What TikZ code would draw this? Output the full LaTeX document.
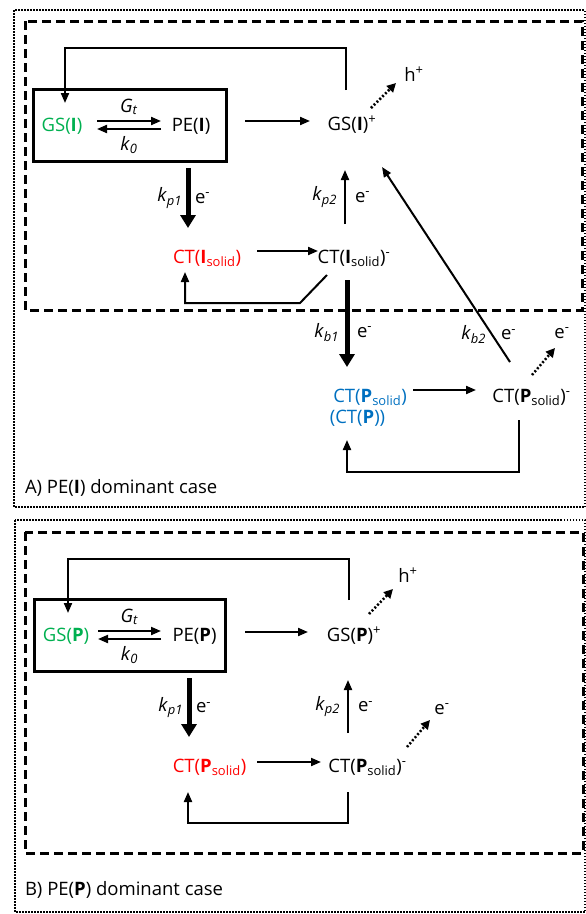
\documentclass[tikz,border=0pt]{standalone}
\usepackage{fontspec}
\setmainfont{Open Sans}
\usetikzlibrary{arrows.meta, calc}

\definecolor{gsgreen}{RGB}{0,176,80}
\definecolor{ctred}{RGB}{255,0,0}
\definecolor{ctblue}{RGB}{0,112,192}

\newcommand{\rate}[2]{\textit{#1}\textsubscript{\textit{#2}}}
\newcommand{\elec}{e\textsuperscript{-}}

\begin{document}
\begin{tikzpicture}[x=1pt, y=-1pt, line width=2pt,
    > = {Triangle[length=10pt, width=8pt]},
    every node/.style={inner sep=0pt, outer sep=0pt, font=\fontsize{18.5}{22}\selectfont},
    sp/.style={anchor=base},
    box/.style={draw, line width=3pt},
    frame/.style={line width=1.5pt, dash pattern=on 1.5pt off 1.5pt},
    zone/.style={line width=3pt, dash pattern=on 9pt off 5pt},
    bold/.style={line width=5pt, -{Triangle[length=13pt, width=15pt]}},
    dots/.style={line width=2.5pt, dash pattern=on 2pt off 2pt, -{Triangle[length=9pt, width=9pt]}}]
  \useasboundingbox (0,0) rectangle (586,914);

  % A) PE(I) dominant case
  \draw[frame] (14,10) rectangle (585,507);
  \draw[zone] (25,21) rectangle (582,310);

  \node[box, minimum width=193pt, minimum height=72pt] (boxA) at (129.5,125) {};
  \node[sp, text=gsgreen] (gsi) at (62,131) {GS(\textbf{I})};
  \node[sp] (pei) at (191,131) {PE(\textbf{I})};
  \node[sp] (gsip) at (352,130) {GS(\textbf{I})\textsuperscript{+}};
  \node[sp] (hpa) at (414,81) {h\textsuperscript{+}};
  \node[sp, text=ctred] (cti) at (207,263) {CT(\textbf{I}\textsubscript{solid})};
  \node[sp] (ctim) at (354,263) {CT(\textbf{I}\textsubscript{solid})\textsuperscript{-}};
  \node[sp, text=ctblue] (ctpb) at (370,402) {CT(\textbf{P}\textsubscript{solid})};
  \node[sp, text=ctblue] (ctpbx) at (357.5,423) {(CT(\textbf{P}))};
  \node[sp] (ctpm) at (531.5,402) {CT(\textbf{P}\textsubscript{solid})\textsuperscript{-}};
  \node[sp] (ema) at (562,338) {\elec};
  \node[sp, anchor=base west] (capA) at (25,493) {A) PE(\textbf{I}) dominant case};

  \draw[->] ($(gsi.base)+(35,-10)$) -- node[midway, above=6pt] {\rate{G}{t}} ($(pei.base)+(-30,-10)$);
  \draw[->] ($(pei.base)+(-30,-2)$) -- node[midway, below=7pt] {\rate{k}{0}} ($(gsi.base)+(35,-2)$);
  \draw[->] ($(gsip.base)+(-6,-40)$) -- ++(0,-42) -| ($(gsi.base)+(3,-28)$);
  \draw[->] ($(pei.base)+(54,-10)$) -- ($(gsip.base)+(-42,-9)$);
  \draw[dots] ($(gsip.base)+(19,-22)$) -- ($(hpa.base)+(-18,2)$);
  \draw[bold] ($(pei.base)+(-3,37)$) -- node[midway, left=6pt] {\rate{k}{p1}}
    node[midway, right=7pt] {\elec} ($(cti.base)+(-19,-35)$);
  \draw[->] ($(cti.base)+(50,-12)$) -- ($(ctim.base)+(-36,-12)$);
  \draw[->] ($(ctim.base)+(-9,-39)$) -- node[midway, left=8pt] {\rate{k}{p2}}
    node[midway, right=10pt] {\elec} ($(gsip.base)+(-7,40)$);
  \draw[->] ($(ctim.base)+(-27,12)$) -- ++(-27,28) -| ($(cti.base)+(-22,9)$);
  \draw[bold] ($(ctim.base)+(-7,17)$) -- node[pos=0.6, left=8pt] {\rate{k}{b1}}
    node[pos=0.6, right=10pt] {\elec} ($(ctpb.base)+(-23,-35)$);
  \draw[->] ($(ctpb.base)+(43,-12)$) -- ($(ctpm.base)+(-55.5,-12)$);
  \draw[->] ($(ctpm.base)+(-21.5,-40)$) -- node[pos=0.14, left=6pt] {\rate{k}{b2}}
    node[pos=0.14, right=9pt] {\elec} ($(gsip.base)+(30,37)$);
  \draw[dots] ($(ctpm.base)+(0.5,-27)$) -- ($(ema.base)+(-7,10)$);
  \draw[->] ($(ctpm.base)+(-12.5,18)$) -- ++(0,52) -| ($(ctpbx.base)+(-10.5,17)$);

  % B) PE(P) dominant case
  \draw[frame] (15,520) rectangle (585,912);
  \draw[zone] (25,532) rectangle (583,853);

  \node[box, minimum width=191pt, minimum height=72pt] (boxB) at (129.5,635) {};
  \node[sp, text=gsgreen] (gsp) at (66,641) {GS(\textbf{P})};
  \node[sp] (pep) at (194.5,641) {PE(\textbf{P})};
  \node[sp] (gspp) at (354,641) {GS(\textbf{P})\textsuperscript{+}};
  \node[sp] (hpb) at (408,582) {h\textsuperscript{+}};
  \node[sp, text=ctred] (ctb) at (209.5,772) {CT(\textbf{P}\textsubscript{solid})};
  \node[sp] (ctbm) at (367.5,772) {CT(\textbf{P}\textsubscript{solid})\textsuperscript{-}};
  \node[sp] (emb) at (442,714) {\elec};
  \node[sp, anchor=base west] (capB) at (25,895) {B) PE(\textbf{P}) dominant case};

  \draw[->] ($(gsp.base)+(32,-10)$) -- node[midway, above=6pt] {\rate{G}{t}} ($(pep.base)+(-33.5,-10)$);
  \draw[->] ($(pep.base)+(-33.5,-2)$) -- node[midway, below=7pt] {\rate{k}{0}} ($(gsp.base)+(32,-2)$);
  \draw[->] ($(gspp.base)+(-5,-41)$) -- ++(0,-41) -| ($(gsp.base)+(2,-28)$);
  \draw[->] ($(pep.base)+(50.5,-9)$) -- ($(gspp.base)+(-46,-9)$);
  \draw[dots] ($(gspp.base)+(15,-27)$) -- ($(hpb.base)+(-15,7)$);
  \draw[bold] ($(pep.base)+(-5.5,37)$) -- node[midway, left=6pt] {\rate{k}{p1}}
    node[midway, right=7pt] {\elec} ($(ctb.base)+(-20.5,-35)$);
  \draw[->] ($(ctb.base)+(47.5,-10)$) -- ($(ctbm.base)+(-46.5,-10)$);
  \draw[->] ($(ctbm.base)+(-19.5,-39)$) -- node[midway, left=8pt] {\rate{k}{p2}}
    node[midway, right=10pt] {\elec} ($(gspp.base)+(-6,39)$);
  \draw[dots] ($(ctbm.base)+(39.5,-25)$) -- ($(emb.base)+(-12,6)$);
  \draw[->] ($(ctbm.base)+(-19.5,20)$) -- ++(0,31) -| ($(ctb.base)+(-21.5,20)$);
\end{tikzpicture}
\end{document}
